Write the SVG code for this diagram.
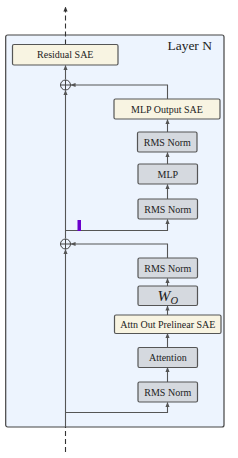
<svg xmlns="http://www.w3.org/2000/svg" width="238" height="458" viewBox="0 0 238 458">
<defs>
<marker id="ah" viewBox="0 0 6 6" refX="5.5" refY="3" markerWidth="5" markerHeight="5" orient="auto" markerUnits="userSpaceOnUse">
<path d="M0,0.5 L6,3 L0,5.5 z" fill="#555"/>
</marker>
<marker id="ahd" viewBox="0 0 6 6" refX="5.5" refY="3" markerWidth="5" markerHeight="5" orient="auto" markerUnits="userSpaceOnUse">
<path d="M0,0.5 L6,3 L0,5.5 z" fill="#333"/>
</marker>
</defs>
<style>
.layer{fill:#edf4fe;stroke:#444;stroke-width:1.2}
.op{fill:#d5d9df;stroke:#555;stroke-width:1.2}
.sae{fill:#f8f4e2;stroke:#555;stroke-width:1.2}
.t{font-family:"Liberation Serif","DejaVu Serif",serif;font-size:10px;fill:#222;text-anchor:middle}
.ln{fill:none;stroke:#555;stroke-width:1.1}
.dash{fill:none;stroke:#333;stroke-width:1.1;stroke-dasharray:5,3}
.plus{fill:none;stroke:#444;stroke-width:1}
</style>
<g id="layer">
<rect class="layer" x="5.7" y="35" width="218.3" height="392" rx="2"/>
<text x="212" y="50" font-family="'Liberation Serif','DejaVu Serif',serif" font-size="13.5" fill="#222" text-anchor="end">Layer N</text>
</g>
<g id="connectors">
<path class="dash" d="M65.5,44.5 V7" marker-end="url(#ahd)"/>
<path class="dash" d="M65.5,452 V427"/>
<path class="ln" d="M65.5,427 V249.5" marker-end="url(#ah)"/>
<path class="ln" d="M65.5,238.5 V90.5" marker-end="url(#ah)"/>
<path class="ln" d="M65.5,79.5 V65.5" marker-end="url(#ah)"/>
<path class="ln" d="M167.5,99 V85 H71" marker-end="url(#ah)"/>
<path class="ln" d="M167.5,132 V119.5" marker-end="url(#ah)"/>
<path class="ln" d="M167.5,164 V152.5" marker-end="url(#ah)"/>
<path class="ln" d="M167.5,199 V184.5" marker-end="url(#ah)"/>
<path class="ln" d="M65.5,230.5 H167.5 V219.5" marker-end="url(#ah)"/>
<path class="ln" d="M167.5,258 V244 H71" marker-end="url(#ah)"/>
<path class="ln" d="M167.5,286 V278.5" marker-end="url(#ah)"/>
<path class="ln" d="M167.5,315 V306" marker-end="url(#ah)"/>
<path class="ln" d="M167.5,347.5 V333.5" marker-end="url(#ah)"/>
<path class="ln" d="M167.5,382 V367.5" marker-end="url(#ah)"/>
<path class="ln" d="M65.5,412.5 H167.5 V402.5" marker-end="url(#ah)"/>
</g>
<g id="plus1">
<circle class="plus" cx="65.5" cy="85" r="5"/>
<path class="plus" d="M60.5,85 H70.5 M65.5,80 V90"/>
</g>
<g id="plus2">
<circle class="plus" cx="65.5" cy="244" r="5"/>
<path class="plus" d="M60.5,244 H70.5 M65.5,239 V249"/>
</g>
<g id="marker-bar">
<rect x="77.5" y="220" width="3.5" height="11" fill="#6a00cc"/>
</g>
<g id="residual-sae">
<rect class="sae" x="12.5" y="44.5" width="105.5" height="20.5" rx="1.5"/>
<text class="t" x="65.3" y="58.3">Residual SAE</text>
</g>
<g id="mlp-output-sae">
<rect class="sae" x="114" y="99" width="106" height="20" rx="1.5"/>
<text class="t" x="167" y="112.6">MLP Output SAE</text>
</g>
<g id="rms-norm-1">
<rect class="op" x="137.5" y="132" width="59.5" height="20" rx="1.5"/>
<text class="t" x="167.3" y="145.6">RMS Norm</text>
</g>
<g id="mlp">
<rect class="op" x="138" y="164" width="59.5" height="20" rx="1.5"/>
<text class="t" x="167.8" y="177.6">MLP</text>
</g>
<g id="rms-norm-2">
<rect class="op" x="138" y="199" width="59.5" height="20" rx="1.5"/>
<text class="t" x="167.8" y="212.6">RMS Norm</text>
</g>
<g id="rms-norm-3">
<rect class="op" x="138" y="258" width="59.5" height="20" rx="1.5"/>
<text class="t" x="167.8" y="271.6">RMS Norm</text>
</g>
<g id="w-o">
<rect class="op" x="138" y="286" width="59.5" height="19.5" rx="1.5"/>
<text x="167.8" y="301" font-family="'Liberation Serif','DejaVu Serif',serif" font-size="15.5" font-style="italic" fill="#222" text-anchor="middle">W<tspan font-size="10.5" dy="2.5">O</tspan></text>
</g>
<g id="attn-out-prelinear-sae">
<rect class="sae" x="114.5" y="315" width="106.5" height="18.5" rx="1.5"/>
<text class="t" x="167.8" y="327.6">Attn Out Prelinear SAE</text>
</g>
<g id="attention">
<rect class="op" x="138" y="347.5" width="59.5" height="20" rx="1.5"/>
<text class="t" x="167.8" y="361.1">Attention</text>
</g>
<g id="rms-norm-4">
<rect class="op" x="138" y="382" width="59.5" height="20" rx="1.5"/>
<text class="t" x="167.8" y="395.6">RMS Norm</text>
</g>
</svg>
